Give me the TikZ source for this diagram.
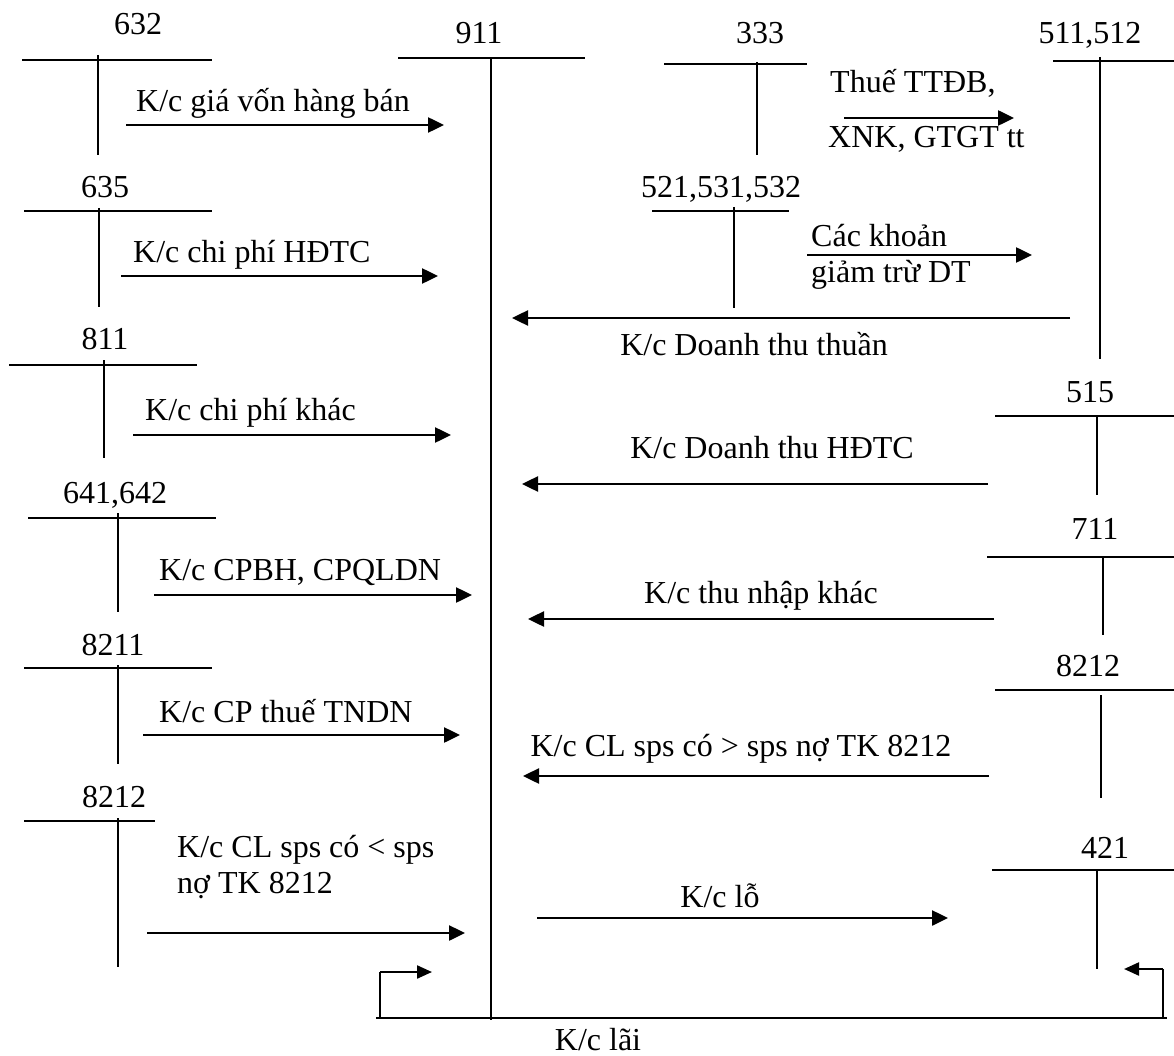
\documentclass[tikz,border=0pt]{standalone}
\usepackage{fontspec}
\setmainfont{Liberation Serif}
\usetikzlibrary{arrows.meta}
\tikzset{
  lbl/.style={inner sep=0pt, font=\fontsize{32}{38}\selectfont},
  acc/.style={lbl, anchor=base},
  txtl/.style={lbl, anchor=base west},
  txtc/.style={lbl, anchor=base},
  tline/.style={line width=1.6pt},
  flow/.style={line width=2.5pt, -{Triangle[length=16pt,width=15pt]}},
  small/.style={line width=2.2pt, -{Triangle[length=15pt,width=13pt]}},
  thin/.style={line width=1.6pt}
}
\begin{document}
\begin{tikzpicture}[x=1pt,y=-1pt]
\useasboundingbox (0,0) rectangle (1174,1056);
% account labels
\node[acc] (n632) at (138,35) {632};
\node[acc] (n911) at (479,44) {911};
\node[acc] (n333) at (760,44) {333};
\node[acc] (n511) at (1090,44) {511,512};
\node[acc] (n635) at (105,198) {635};
\node[acc] (n521) at (721,198) {521,531,532};
\node[acc] (n811) at (105,349) {811};
\node[acc] (n515) at (1090,402) {515};
\node[acc] (n641) at (115,503) {641,642};
\node[acc] (n711) at (1095,539) {711};
\node[acc] (n8211) at (113,655) {8211};
\node[acc] (n8212r) at (1088,676) {8212};
\node[acc] (n8212l) at (114,807) {8212};
\node[acc] (n421) at (1105,858) {421};
% T-accounts
\draw[tline] (22,60) -- (212,60);   \draw[tline] (98,55) -- (98,155);
\draw[tline] (398,58) -- (585,58);  \draw[tline] (491,58) -- (491,1020);
\draw[tline] (664,64) -- (807,64);  \draw[tline] (757,62) -- (757,155);
\draw[tline] (1053,61) -- (1174,61); \draw[tline] (1100,57) -- (1100,359);
\draw[tline] (24,211) -- (212,211); \draw[tline] (99,208) -- (99,307);
\draw[tline] (652,211) -- (789,211); \draw[tline] (734,207) -- (734,308);
\draw[tline] (9,365) -- (197,365);  \draw[tline] (104,360) -- (104,458);
\draw[tline] (995,416) -- (1174,416); \draw[tline] (1097,416) -- (1097,495);
\draw[tline] (28,518) -- (216,518); \draw[tline] (118,513) -- (118,612);
\draw[tline] (987,557) -- (1174,557); \draw[tline] (1103,557) -- (1103,635);
\draw[tline] (24,668) -- (212,668); \draw[tline] (118,665) -- (118,764);
\draw[tline] (995,690) -- (1174,690); \draw[tline] (1101,695) -- (1101,798);
\draw[tline] (24,821) -- (155,821); \draw[tline] (118,818) -- (118,967);
\draw[tline] (992,870) -- (1174,870); \draw[tline] (1097,870) -- (1097,969);
% arrow end points
\coordinate (a1s) at (126,125);  \coordinate (a1e) at (444,125);
\coordinate (a2s) at (844,118);  \coordinate (a2e) at (1014,118);
\coordinate (a3s) at (121,276);  \coordinate (a3e) at (438,276);
\coordinate (a4s) at (807,255);  \coordinate (a4e) at (1032,255);
\coordinate (a5s) at (1070,318); \coordinate (a5e) at (512,318);
\coordinate (a6s) at (133,435);  \coordinate (a6e) at (451,435);
\coordinate (a7s) at (988,484);  \coordinate (a7e) at (522,484);
\coordinate (a8s) at (154,595);  \coordinate (a8e) at (472,595);
\coordinate (a9s) at (994,619);  \coordinate (a9e) at (528,619);
\coordinate (a10s) at (143,735); \coordinate (a10e) at (460,735);
\coordinate (a11s) at (989,776); \coordinate (a11e) at (523,776);
\coordinate (a12s) at (147,933); \coordinate (a12e) at (465,933);
\coordinate (a13s) at (537,918); \coordinate (a13e) at (948,918);
\coordinate (bl1) at (380,1018); \coordinate (bl2) at (380,972); \coordinate (bl3) at (432,972);
\coordinate (br1) at (1163,1018); \coordinate (br2) at (1163,969); \coordinate (br3) at (1124,969);
\coordinate (bb1) at (376,1018); \coordinate (bb2) at (1167,1018);
% arrows
\draw[flow] (a1s) -- (a1e);
\draw[flow] (a2s) -- (a2e);
\draw[flow] (a3s) -- (a3e);
\draw[flow] (a4s) -- (a4e);
\draw[flow] (a5s) -- (a5e);
\draw[flow] (a6s) -- (a6e);
\draw[flow] (a7s) -- (a7e);
\draw[flow] (a8s) -- (a8e);
\draw[flow] (a9s) -- (a9e);
\draw[flow] (a10s) -- (a10e);
\draw[flow] (a11s) -- (a11e);
\draw[flow] (a12s) -- (a12e);
\draw[flow] (a13s) -- (a13e);
\draw[thin] (bl1) -- (bl2); \draw[small] (bl2) -- (bl3);
\draw[thin] (br1) -- (br2); \draw[small] (br2) -- (br3);
\draw[thin] (bb1) -- (bb2);
% arrow labels
\node[txtl] (t1) at (136,112) {K/c giá vốn hàng bán};
\node[txtl] (t2a) at (830,93) {Thuế TTĐB,};
\node[txtl] (t2b) at (828,148) {XNK, GTGT tt};
\node[txtl] (t3) at (133,263) {K/c chi phí HĐTC};
\node[txtl] (t4a) at (811,247) {Các khoản};
\node[txtl] (t4b) at (811,283) {giảm trừ DT};
\node[txtc] (t5) at (754,355) {K/c Doanh thu thuần};
\node[txtl] (t6) at (145,420) {K/c chi phí khác};
\node[txtc] (t7) at (772,458) {K/c Doanh thu HĐTC};
\node[txtl] (t8) at (159,580) {K/c CPBH, CPQLDN};
\node[txtc] (t9) at (761,603) {K/c thu nhập khác};
\node[txtl] (t10) at (159,722) {K/c CP thuế TNDN};
\node[txtc] (t11) at (741,756) {K/c CL sps có > sps nợ TK 8212};
\node[txtl] (t12a) at (177,857) {K/c CL sps có < sps};
\node[txtl] (t12b) at (177,893) {nợ TK 8212};
\node[txtc] (t13) at (720,907) {K/c lỗ};
\node[txtc] (t14) at (598,1050) {K/c lãi};
\end{tikzpicture}
\end{document}
